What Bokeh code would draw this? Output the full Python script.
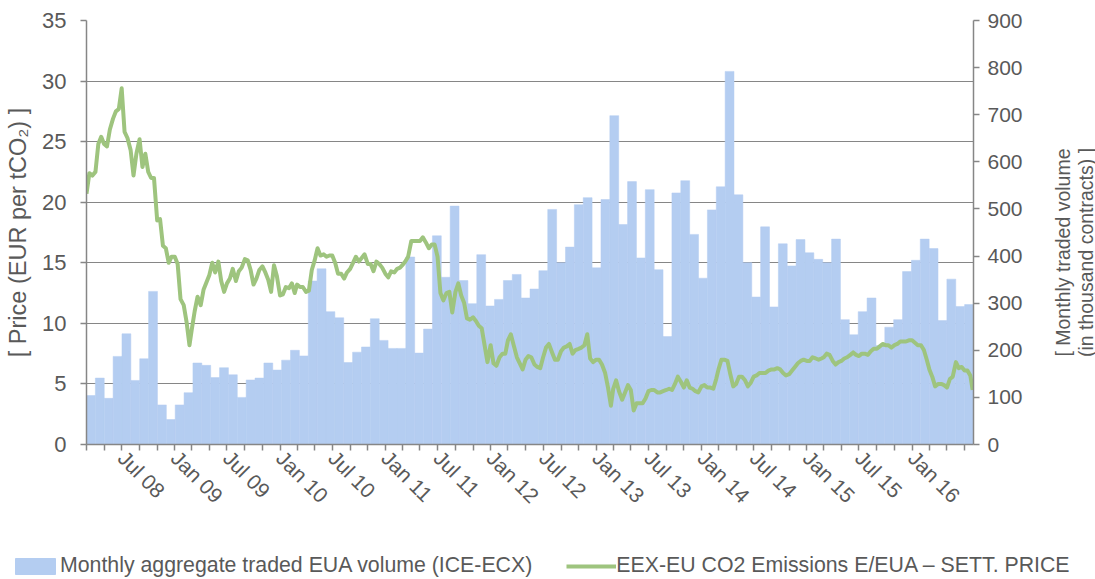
import math
import pandas as pd
from bokeh.plotting import figure
from bokeh.layouts import row
from bokeh.models import (Range1d, LinearAxis, FixedTicker, Legend, LegendItem,
                          Grid, ColumnDataSource, Label)
from bokeh.embed import file_html
from bokeh.resources import INLINE

# ---------------- data ----------------
# Monthly aggregate traded EUA volume (ICE-ECX), thousand contracts, Mar 2008 .. Jun 2016
first_month = "2008-03-01"
volumes = [104, 141, 98, 187, 235, 136, 182, 325, 84, 53,
           84, 110, 173, 168, 142, 163, 148, 100, 137, 141,
           173, 158, 179, 200, 188, 347, 373, 282, 269, 174,
           196, 207, 267, 221, 204, 204, 398, 194, 245, 443,
           355, 506, 348, 299, 403, 294, 308, 348, 361, 311,
           330, 369, 499, 386, 419, 509, 524, 375, 520, 698,
           467, 558, 396, 541, 371, 229, 534, 560, 446, 353,
           498, 547, 792, 530, 386, 313, 462, 292, 426, 379,
           435, 407, 393, 386, 436, 265, 233, 282, 311, 210,
           249, 265, 367, 391, 436, 416, 263, 351, 293, 297]

# EEX settlement price (EUR/tCO2) read on the 1st, 11th and 21st of each month, Mar 2008 .. Jul 2016
price_days = [1, 11, 21]
prices = [
    20.7, 22.4, 22.2, 22.5, 24.8, 25.4, 24.8, 24.6, 26.0, 26.9, 27.5, 27.7,
    29.4, 25.8, 25.3, 24.3, 22.2, 24.0, 25.2, 22.9, 24.0, 22.5, 22.0, 22.0,
    18.5, 18.6, 16.4, 16.2, 15.0, 15.5, 15.5, 14.9, 12.0, 11.5, 10.1, 8.2,
    9.5, 11.0, 12.2, 11.5, 12.8, 13.4, 14.0, 15.0, 14.2, 15.1, 13.5, 12.6,
    13.3, 13.7, 14.5, 13.5, 14.3, 14.6, 15.3, 15.2, 14.4, 13.2, 13.7, 14.4,
    14.7, 14.2, 13.6, 12.6, 14.8, 13.9, 12.3, 12.4, 13.0, 12.9, 13.3, 12.5,
    13.2, 13.0, 13.0, 12.6, 12.7, 14.4, 15.2, 16.2, 15.6, 15.7, 15.5, 15.6,
    15.6, 15.0, 14.1, 14.1, 13.7, 14.2, 14.5, 15.0, 15.5, 15.1, 15.4, 15.7,
    14.9, 14.9, 14.3, 15.1, 14.9, 14.6, 14.1, 13.8, 14.3, 14.2, 14.5, 14.6,
    14.8, 15.1, 15.5, 16.8, 16.8, 16.8, 16.8, 17.1, 16.7, 16.2, 16.5, 16.5,
    15.5, 12.5, 11.9, 12.5, 12.6, 10.9, 12.6, 13.3, 12.3, 11.7, 10.4, 10.3,
    10.5, 10.2, 9.8, 9.6, 8.2, 6.8, 8.2, 6.7, 6.5, 7.2, 7.5, 7.5,
    8.6, 9.1, 8.2, 7.2, 6.7, 6.2, 7.0, 7.3, 7.2, 6.6, 6.4, 6.3,
    7.2, 8.0, 8.3, 7.6, 7.0, 7.0, 7.7, 8.0, 8.1, 8.3, 7.5, 7.8,
    7.9, 8.0, 8.2, 9.1, 7.1, 6.8, 7.0, 7.0, 6.6, 5.9, 4.7, 3.2,
    4.6, 5.3, 4.4, 3.7, 4.3, 4.9, 4.5, 2.8, 3.4, 3.4, 3.4, 3.8,
    4.4, 4.5, 4.5, 4.3, 4.3, 4.4, 4.5, 4.6, 4.5, 5.0, 5.6, 5.2,
    4.7, 5.3, 4.7, 4.6, 4.4, 4.3, 4.8, 4.9, 4.7, 4.7, 4.6, 5.4,
    6.2, 7.0, 7.0, 6.9, 5.8, 4.8, 5.0, 5.6, 5.6, 5.3, 4.8, 5.1,
    5.6, 5.7, 5.9, 5.9, 5.9, 6.1, 6.2, 6.2, 6.3, 6.2, 5.9, 5.7,
    5.8, 6.1, 6.4, 6.7, 6.9, 7.0, 6.9, 6.9, 7.2, 7.1, 7.0, 7.1,
    7.2, 7.5, 7.4, 6.9, 6.6, 6.8, 6.9, 7.1, 7.2, 7.4, 7.6, 7.4,
    7.3, 7.5, 7.5, 7.4, 7.7, 7.9, 7.9, 8.1, 8.3, 8.2, 8.2, 8.0,
    8.2, 8.3, 8.5, 8.5, 8.5, 8.6, 8.6, 8.4, 8.2, 8.2, 7.8, 7.0,
    6.2, 5.6, 4.8, 5.0, 5.0, 4.9, 4.7, 5.4, 5.6, 6.8, 6.3, 6.4,
    6.1, 6.1, 5.7,
]
last_price_date = "2016-07-29"
last_price = 4.5

axis_start = "2008-03-01"
axis_end = "2016-08-01"
tick_labels = ["Jul 08", "Jan 09", "Jul 09", "Jan 10", "Jul 10", "Jan 11", "Jul 11",
               "Jan 12", "Jul 12", "Jan 13", "Jul 13", "Jan 14", "Jul 14", "Jan 15",
               "Jul 15", "Jan 16"]

price_ticks = [0, 5, 10, 15, 20, 25, 30, 35]
volume_ticks = [0, 100, 200, 300, 400, 500, 600, 700, 800, 900]

vol_name = "Monthly aggregate traded EUA volume (ICE-ECX)"
price_name = "EEX-EU CO2 Emissions E/EUA \u2013 SETT. PRICE"
left_title = "[ Price (EUR per tCO\u2082) ]"
right_title_lines = ["[ Monthly traded volume", "(in thousand contracts) ]"]

# ---------------- helpers ----------------
def ms(ts):
    return float(pd.Timestamp(ts).value // 10**6)

months = pd.date_range(first_month, periods=len(prices) // len(price_days), freq="MS")
price_dates = [m + pd.Timedelta(days=d - 1) for m in months for d in price_days]
price_dates.append(pd.Timestamp(last_price_date))
price_vals = prices + [last_price]

TEXT = "#595959"
AXIS = "#868686"
FONT = "Liberation Sans"
BAR = "#B4CDF1"
GREEN = "#9EC47E"

p = figure(width=1045, height=530, output_backend="svg", toolbar_location=None,
           x_range=Range1d(ms(axis_start), ms(axis_end)), y_range=Range1d(0, 35),
           x_axis_type=None, y_axis_type=None,
           min_border_left=86, min_border_right=72, min_border_top=20,
           min_border_bottom=86)
p.outline_line_color = None
p.background_fill_color = "white"
p.border_fill_color = "white"
p.extra_y_ranges = {"vol": Range1d(0, 900)}
p.extra_x_ranges = {"bars": Range1d(0, len(volumes))}

yticker = FixedTicker(ticks=price_ticks)
p.add_layout(Grid(dimension=1, ticker=yticker, grid_line_color=AXIS, grid_line_width=1))

bar_src = ColumnDataSource(dict(i=[k + 0.5 for k in range(len(volumes))], v=volumes))
bars = p.vbar(x="i", top="v", width=1.0, source=bar_src, x_range_name="bars",
              y_range_name="vol", fill_color=BAR, line_color=BAR, line_width=0.5)

line_src = ColumnDataSource(dict(t=[ms(d) for d in price_dates], y=price_vals))
line = p.line(x="t", y="y", source=line_src, line_color=GREEN, line_width=4,
              line_join="round")

def style(ax, size="21px"):
    ax.axis_line_color = AXIS
    ax.axis_line_width = 1.5
    ax.major_tick_line_color = AXIS
    ax.major_tick_line_width = 1.5
    ax.major_tick_out = 6
    ax.major_tick_in = 0
    ax.minor_tick_line_color = None
    ax.major_label_text_color = TEXT
    ax.major_label_text_font = FONT
    ax.major_label_text_font_size = size
    ax.axis_label_text_color = TEXT
    ax.axis_label_text_font = FONT
    ax.axis_label_text_font_style = "normal"

# bottom date axis
tick_dates = pd.date_range(axis_start, pd.Timestamp(axis_end) - pd.DateOffset(months=1), freq="2MS")
label_map = {pd.to_datetime(s, format="%b %y"): s for s in tick_labels}
overrides = {ms(d): label_map.get(d, "") for d in tick_dates}
xaxis = LinearAxis(ticker=FixedTicker(ticks=[ms(d) for d in tick_dates]),
                   major_label_overrides=overrides,
                   major_label_orientation=-math.pi / 4)
style(xaxis)
xaxis.major_label_standoff = 4
p.add_layout(xaxis, "below")

yleft = LinearAxis(ticker=yticker, axis_label=left_title)
style(yleft, "22px")
yleft.major_label_standoff = 14
yleft.axis_label_standoff = 8
yleft.axis_label_text_font_size = "23.5px"
p.add_layout(yleft, "left")

yright = LinearAxis(y_range_name="vol", ticker=FixedTicker(ticks=volume_ticks))
style(yright)
yright.major_label_standoff = 8
p.add_layout(yright, "right")

# ---------------- right title strip ----------------
strip = figure(width=50, height=530, output_backend="svg", toolbar_location=None,
               x_range=Range1d(0, 1), y_range=Range1d(0, 1),
               x_axis_type=None, y_axis_type=None,
               min_border_left=0, min_border_right=0, min_border_top=20,
               min_border_bottom=86)
strip.outline_line_color = None
for k, txt in enumerate(right_title_lines):
    strip.add_layout(Label(x=17 + 23 * k, y=192, x_units="screen", y_units="screen",
                           text=txt, angle=math.pi / 2, text_align="center",
                           text_baseline="middle", text_font=FONT,
                           text_font_size="19.5px", text_color=TEXT))

# ---------------- legend strip ----------------
# same data sources, drawn outside this strip's visible window so only the legend shows
lg = figure(width=1095, height=49, output_backend="svg", toolbar_location=None,
            x_range=Range1d(0, 1), y_range=Range1d(5000, 5001),
            x_axis_type=None, y_axis_type=None, min_border=0)
lg.outline_line_color = None
lbar = lg.vbar(x="i", top="v", width=1.0, source=bar_src,
               fill_color=BAR, line_color=BAR)
lline = lg.line(x="t", y="y", source=line_src, line_color=GREEN, line_width=4)
legend = Legend(items=[LegendItem(label=vol_name, renderers=[lbar]),
                       LegendItem(label=price_name, renderers=[lline])],
                orientation="horizontal", location=(10, 1),
                glyph_width=50, glyph_height=20, label_standoff=0, spacing=34,
                padding=0, margin=0, border_line_alpha=0, background_fill_alpha=0,
                label_text_font=FONT, label_text_font_size="21.3px",
                label_text_color=TEXT)
lg.add_layout(legend)

top = row(p, strip, spacing=0)
open("out.html", "w").write(file_html([top, lg], INLINE))
